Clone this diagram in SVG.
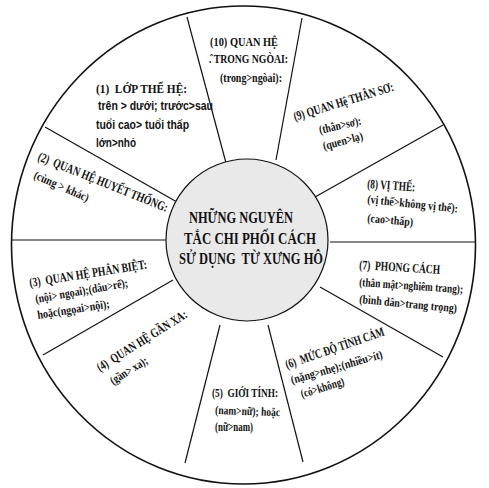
<svg xmlns="http://www.w3.org/2000/svg" width="489" height="488" viewBox="0 0 489 488">
<style>
text{font-family:"Liberation Serif","Times New Roman",serif;font-weight:bold;fill:#111;white-space:pre}
.h{font-size:13px}
.b{font-size:12px}
.s{font-family:"Liberation Sans",Arial,sans-serif;font-size:12px}
.c{font-size:17.5px}
.ln{stroke:#111;stroke-width:1.2;fill:none}
</style>
<rect width="489" height="488" fill="#fff"/>
<ellipse cx="243.5" cy="245" rx="232" ry="239" fill="#fff" stroke="#111" stroke-width="1.6"/>
<g id="connectors" class="ln">
<line x1="226" y1="163" x2="187" y2="17"/>
<line x1="276" y1="160" x2="302" y2="18"/>
<line x1="315" y1="197" x2="443" y2="125"/>
<line x1="330" y1="242" x2="475" y2="242"/>
<line x1="320" y1="287" x2="443" y2="357"/>
<line x1="268" y1="325" x2="303" y2="462"/>
<line x1="220" y1="325" x2="185" y2="463"/>
<line x1="173" y1="280" x2="43" y2="355"/>
<line x1="12" y1="240" x2="166" y2="240"/>
<line x1="177" y1="202" x2="45" y2="127"/>
</g>
<g id="center">
<circle cx="247" cy="240" r="81" fill="#e9e9e9" stroke="#111" stroke-width="1.2"/>
<text class="c" x="189" y="223" textLength="104" lengthAdjust="spacingAndGlyphs">NHỮNG NGUYÊN</text>
<text class="c" x="184" y="244" textLength="132" lengthAdjust="spacingAndGlyphs">TẮC CHI PHỐI CÁCH</text>
<text class="c" x="179" y="264" textLength="144" lengthAdjust="spacingAndGlyphs">SỬ DỤNG  TỪ XƯNG HÔ</text>
</g>
<g id="n1">
<text class="h" x="96" y="92.5" textLength="91" lengthAdjust="spacingAndGlyphs">(1)  LỚP THẾ HỆ:</text>
<text class="s" x="98" y="110" textLength="115" lengthAdjust="spacingAndGlyphs">trên &gt; dưới; trước&gt;sau</text>
<text class="s" x="96" y="129" textLength="93" lengthAdjust="spacingAndGlyphs">tuổi cao&gt; tuổi thấp</text>
<text class="s" x="96" y="147" textLength="40" lengthAdjust="spacingAndGlyphs">lớn&gt;nhỏ</text>
</g>
<g id="n2">
<text class="h" transform="translate(37,160) rotate(22)" textLength="139" lengthAdjust="spacingAndGlyphs">(2)  QUAN HỆ HUYẾT THỐNG:</text>
<text class="b" transform="translate(33,178) rotate(24)" textLength="59" lengthAdjust="spacingAndGlyphs">(cùng &gt; khác)</text>
</g>
<g id="n3">
<text class="h" transform="translate(30,287) rotate(-9)" textLength="119" lengthAdjust="spacingAndGlyphs">(3)  QUAN HỆ PHÂN BIỆT:</text>
<text class="b" transform="translate(36,303) rotate(-10)" textLength="94" lengthAdjust="spacingAndGlyphs">(nội&gt; ngọai);(dâu&gt;rể);</text>
<text class="b" transform="translate(38,319) rotate(-9)" textLength="73" lengthAdjust="spacingAndGlyphs">hoặc(ngọai&gt;nội);</text>
</g>
<g id="n4">
<text class="h" transform="translate(100,372) rotate(-32)" textLength="104" lengthAdjust="spacingAndGlyphs">(4)  QUAN HỆ GẦN XA:</text>
<text class="b" transform="translate(113,385) rotate(-32)" textLength="42" lengthAdjust="spacingAndGlyphs">(gần&gt; xa);</text>
</g>
<g id="n5">
<text class="h" x="212" y="397" textLength="66" lengthAdjust="spacingAndGlyphs">(5)  GIỚI TÍNH:</text>
<text class="b" transform="translate(215,414) rotate(2)" textLength="65" lengthAdjust="spacingAndGlyphs">(nam&gt;nữ); hoặc</text>
<text class="b" x="215" y="431" textLength="38" lengthAdjust="spacingAndGlyphs">(nữ&gt;nam)</text>
</g>
<g id="n6">
<text class="h" transform="translate(287,369) rotate(-19)" textLength="104" lengthAdjust="spacingAndGlyphs">(6)  MỨC ĐỘ TÌNH CẢM</text>
<text class="b" transform="translate(292,384) rotate(-16)" textLength="95" lengthAdjust="spacingAndGlyphs">(nặng&gt;nhẹ);(nhiều&gt;ít)</text>
<text class="b" transform="translate(302,398) rotate(-17)" textLength="45" lengthAdjust="spacingAndGlyphs">(có&gt;không)</text>
</g>
<g id="n7">
<text class="h" transform="translate(359,269) rotate(3.5)" textLength="81" lengthAdjust="spacingAndGlyphs">(7)  PHONG CÁCH</text>
<text class="b" transform="translate(359,286) rotate(4)" textLength="104" lengthAdjust="spacingAndGlyphs">(thân mật&gt;nghiêm trang);</text>
<text class="b" transform="translate(359,303) rotate(5.5)" textLength="98" lengthAdjust="spacingAndGlyphs">(bình dân&gt;trang trọng)</text>
</g>
<g id="n8">
<text class="h" transform="translate(367,188) rotate(4)" textLength="48" lengthAdjust="spacingAndGlyphs">(8) VỊ THẾ:</text>
<text class="b" transform="translate(367,203) rotate(6)" textLength="91" lengthAdjust="spacingAndGlyphs">(vị thế&gt;không vị thế):</text>
<text class="b" transform="translate(367,222) rotate(5)" textLength="46" lengthAdjust="spacingAndGlyphs">(cao&gt;thấp)</text>
</g>
<g id="n9">
<text class="h" transform="translate(295,121) rotate(-17)" textLength="104" lengthAdjust="spacingAndGlyphs">(9) QUAN Hệ THÂN SƠ:</text>
<text class="b" transform="translate(320,134) rotate(-13)" textLength="43" lengthAdjust="spacingAndGlyphs">(thân&gt;sơ):</text>
<text class="b" transform="translate(324,150) rotate(-15)" textLength="41" lengthAdjust="spacingAndGlyphs">(quen&gt;lạ)</text>
</g>
<g id="n10">
<text class="h" x="210" y="46" textLength="68" lengthAdjust="spacingAndGlyphs">(10) QUAN HỆ</text>
<text class="h" x="209" y="63" textLength="79" lengthAdjust="spacingAndGlyphs">.̂ TRONG NGÒAI:</text>
<text class="b" x="220" y="82" textLength="62" lengthAdjust="spacingAndGlyphs">(trong&gt;ngòai):</text>
</g>
</svg>
